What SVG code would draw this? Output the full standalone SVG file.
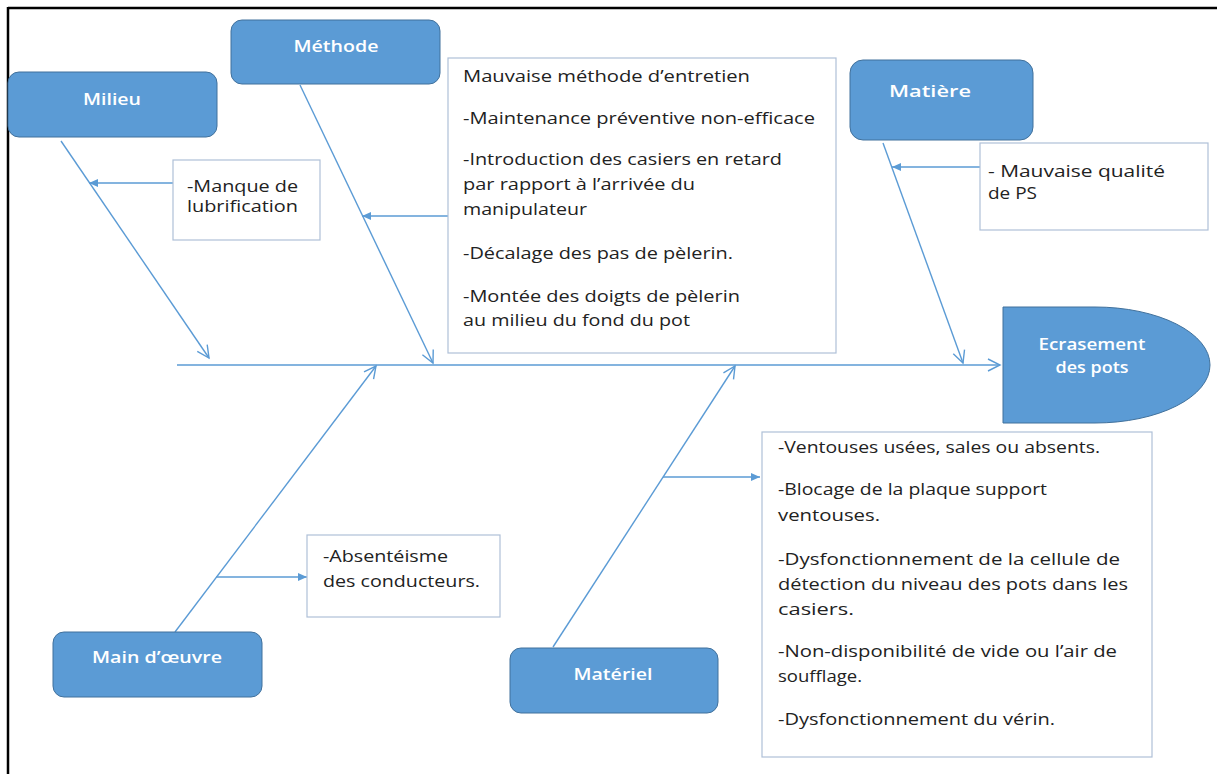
<svg xmlns="http://www.w3.org/2000/svg" width="1217" height="774" viewBox="0 0 1217 774">
<style>
.cat{fill:#5B9BD5;stroke:#41719C;stroke-width:1}
.lbl{font-family:"Open Sans","Liberation Sans",sans-serif;font-size:17px;font-weight:600;fill:#ffffff;text-anchor:middle}
.box{fill:#ffffff;stroke:#AFC0D8;stroke-width:1.2}
.txt{font-family:"Open Sans","Liberation Sans",sans-serif;font-size:16px;fill:#222222}
.ln{stroke:#5B9BD5;stroke-width:1.4;fill:none}
</style>
<defs>
<marker id="open" markerUnits="userSpaceOnUse" markerWidth="16" markerHeight="16" viewBox="0 0 16 16" refX="14" refY="8" orient="auto">
<path d="M2,2 L14,8 L2,14" fill="none" stroke="#5B9BD5" stroke-width="1.4"/>
</marker>
<marker id="fill" markerUnits="userSpaceOnUse" markerWidth="12" markerHeight="12" viewBox="0 0 12 12" refX="11" refY="6" orient="auto">
<path d="M2,2 L11,6 L2,10 Z" fill="#5B9BD5"/>
</marker>
</defs>
<rect width="1217" height="774" fill="#ffffff"/>
<g id="frame">
<line x1="8" y1="8" x2="1217" y2="8" stroke="#000" stroke-width="2.5"/>
<line x1="8" y1="7" x2="8" y2="774" stroke="#000" stroke-width="2.5"/>
</g>
<g id="connectors">
<line class="ln" x1="177" y1="365" x2="1000" y2="365" marker-end="url(#open)"/>
<line class="ln" x1="61" y1="141" x2="209" y2="358" marker-end="url(#open)"/>
<line class="ln" x1="300" y1="85" x2="433" y2="363" marker-end="url(#open)"/>
<line class="ln" x1="883" y1="143" x2="963" y2="363" marker-end="url(#open)"/>
<line class="ln" x1="175" y1="632" x2="376" y2="366" marker-end="url(#open)"/>
<line class="ln" x1="553" y1="647" x2="735" y2="366" marker-end="url(#open)"/>
<line class="ln" x1="173" y1="183" x2="89" y2="183" marker-end="url(#fill)"/>
<line class="ln" x1="448" y1="216" x2="362" y2="216" marker-end="url(#fill)"/>
<line class="ln" x1="980" y1="167" x2="892" y2="167" marker-end="url(#fill)"/>
<line class="ln" x1="216" y1="577" x2="307" y2="577" marker-end="url(#fill)"/>
<line class="ln" x1="663" y1="477" x2="760" y2="477" marker-end="url(#fill)"/>
</g>
<g id="milieu">
<rect class="cat" x="8" y="72" width="209" height="65" rx="11"/>
<text class="lbl" x="112" y="105" textLength="58" lengthAdjust="spacingAndGlyphs">Milieu</text>
</g>
<g id="methode">
<rect class="cat" x="231" y="20" width="209" height="64" rx="11"/>
<text class="lbl" x="336" y="52" textLength="85" lengthAdjust="spacingAndGlyphs">Méthode</text>
</g>
<g id="matiere">
<rect class="cat" x="850" y="60" width="183" height="80" rx="13"/>
<text class="lbl" x="930" y="97" textLength="82" lengthAdjust="spacingAndGlyphs">Matière</text>
</g>
<g id="main-oeuvre">
<rect class="cat" x="53" y="632" width="209" height="65" rx="11"/>
<text class="lbl" x="157" y="663" textLength="130" lengthAdjust="spacingAndGlyphs">Main d’œuvre</text>
</g>
<g id="materiel">
<rect class="cat" x="510" y="648" width="208" height="65" rx="11"/>
<text class="lbl" x="613" y="680" textLength="79" lengthAdjust="spacingAndGlyphs">Matériel</text>
</g>
<g id="effet">
<path class="cat" d="M1003,307 H1095 A115,58 0 0 1 1095,423 H1003 Z"/>
<text class="lbl" x="1092" y="350" textLength="107" lengthAdjust="spacingAndGlyphs">Ecrasement</text>
<text class="lbl" x="1092" y="373" textLength="73" lengthAdjust="spacingAndGlyphs">des pots</text>
</g>
<g id="cause-milieu">
<rect class="box" x="173" y="160" width="147" height="80"/>
<text class="txt" x="187" y="192" textLength="111" lengthAdjust="spacingAndGlyphs">-Manque de</text>
<text class="txt" x="187" y="212" textLength="111" lengthAdjust="spacingAndGlyphs">lubrification</text>
</g>
<g id="cause-methode">
<rect class="box" x="448" y="58" width="388" height="295"/>
<text class="txt" x="463" y="82" textLength="287" lengthAdjust="spacingAndGlyphs">Mauvaise méthode d’entretien</text>
<text class="txt" x="463" y="124" textLength="352" lengthAdjust="spacingAndGlyphs">-Maintenance préventive non-efficace</text>
<text class="txt" x="463" y="165" textLength="319" lengthAdjust="spacingAndGlyphs">-Introduction des casiers en retard</text>
<text class="txt" x="463" y="190" textLength="232" lengthAdjust="spacingAndGlyphs">par rapport à l’arrivée du</text>
<text class="txt" x="463" y="215" textLength="124" lengthAdjust="spacingAndGlyphs">manipulateur</text>
<text class="txt" x="463" y="259" textLength="270" lengthAdjust="spacingAndGlyphs">-Décalage des pas de pèlerin.</text>
<text class="txt" x="463" y="302" textLength="277" lengthAdjust="spacingAndGlyphs">-Montée des doigts de pèlerin</text>
<text class="txt" x="463" y="326" textLength="227" lengthAdjust="spacingAndGlyphs">au milieu du fond du pot</text>
</g>
<g id="cause-matiere">
<rect class="box" x="980" y="143" width="228" height="87"/>
<text class="txt" x="988" y="177" textLength="177" lengthAdjust="spacingAndGlyphs">- Mauvaise qualité</text>
<text class="txt" x="988" y="199" textLength="49" lengthAdjust="spacingAndGlyphs">de PS</text>
</g>
<g id="cause-main-oeuvre">
<rect class="box" x="307" y="535" width="193" height="82"/>
<text class="txt" x="323" y="562" textLength="125" lengthAdjust="spacingAndGlyphs">-Absentéisme</text>
<text class="txt" x="323" y="587" textLength="157" lengthAdjust="spacingAndGlyphs">des conducteurs.</text>
</g>
<g id="cause-materiel">
<rect class="box" x="762" y="432" width="390" height="325"/>
<text class="txt" x="778" y="453" textLength="322" lengthAdjust="spacingAndGlyphs">-Ventouses usées, sales ou absents.</text>
<text class="txt" x="778" y="495" textLength="269" lengthAdjust="spacingAndGlyphs">-Blocage de la plaque support</text>
<text class="txt" x="778" y="521" textLength="102" lengthAdjust="spacingAndGlyphs">ventouses.</text>
<text class="txt" x="778" y="565" textLength="342" lengthAdjust="spacingAndGlyphs">-Dysfonctionnement de la cellule de</text>
<text class="txt" x="778" y="590" textLength="350" lengthAdjust="spacingAndGlyphs">détection du niveau des pots dans les</text>
<text class="txt" x="778" y="615" textLength="76" lengthAdjust="spacingAndGlyphs">casiers.</text>
<text class="txt" x="778" y="657" textLength="339" lengthAdjust="spacingAndGlyphs">-Non-disponibilité de vide ou l’air de</text>
<text class="txt" x="778" y="682" textLength="84" lengthAdjust="spacingAndGlyphs">soufflage.</text>
<text class="txt" x="778" y="725" textLength="277" lengthAdjust="spacingAndGlyphs">-Dysfonctionnement du vérin.</text>
</g>
</svg>
